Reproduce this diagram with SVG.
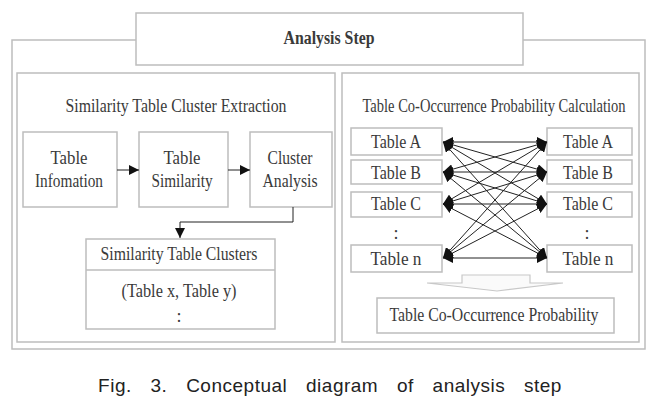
<svg xmlns="http://www.w3.org/2000/svg" width="665" height="403" viewBox="0 0 665 403">
<style>
.box{fill:#fff;stroke:#bdbdbd;stroke-width:1.5}
.t{font-family:"Liberation Serif",serif;font-size:18px;fill:#3a3a3a;text-anchor:middle}
.ln{stroke:#222;stroke-width:1;fill:none}
.cap{font-family:"Liberation Sans",sans-serif;font-size:19px;fill:#222;text-anchor:middle;word-spacing:13px;letter-spacing:0.5px}
</style>
<defs>
<marker id="ah" viewBox="0 0 10 10" refX="10" refY="5" markerWidth="10" markerHeight="10" markerUnits="userSpaceOnUse" orient="auto-start-reverse">
<path d="M0,0 L10,5 L0,10 z" fill="#111"/>
</marker>
</defs>
<rect width="665" height="403" fill="#fff"/>
<g id="outer"><rect class="box" x="12" y="40" width="633" height="309"/></g>
<g id="title"><rect class="box" x="136" y="13" width="387" height="52"/>
<text class="t" x="329" y="44" font-weight="bold" font-size="19" textLength="91" lengthAdjust="spacingAndGlyphs">Analysis Step</text></g>
<g id="leftPanel"><rect class="box" x="17" y="73" width="318" height="269"/>
<text class="t" x="176" y="112" textLength="221" lengthAdjust="spacingAndGlyphs">Similarity Table Cluster Extraction</text></g>
<g id="rightPanel"><rect class="box" x="342" y="73" width="297" height="269"/>
<text class="t" x="494" y="112" font-size="16" textLength="263" lengthAdjust="spacingAndGlyphs">Table Co-Occurrence Probability Calculation</text></g>
<g id="tableInfo"><rect class="box" x="23" y="132" width="94" height="75"/>
<text class="t" x="69" y="164" font-size="19" textLength="37" lengthAdjust="spacingAndGlyphs">Table</text>
<text class="t" x="69" y="187" font-size="19" textLength="68" lengthAdjust="spacingAndGlyphs">Infomation</text></g>
<g id="tableSim"><rect class="box" x="139" y="132" width="89" height="75"/>
<text class="t" x="182" y="164" font-size="19" textLength="37" lengthAdjust="spacingAndGlyphs">Table</text>
<text class="t" x="182" y="187" font-size="19" textLength="61" lengthAdjust="spacingAndGlyphs">Similarity</text></g>
<g id="clusterAna"><rect class="box" x="250" y="132" width="82" height="75"/>
<text class="t" x="290" y="164" font-size="19" textLength="45" lengthAdjust="spacingAndGlyphs">Cluster</text>
<text class="t" x="290" y="187" font-size="19" textLength="55" lengthAdjust="spacingAndGlyphs">Analysis</text></g>
<g id="simClusters"><rect class="box" x="86" y="239" width="189" height="90"/>
<line x1="86" y1="270" x2="275" y2="270" stroke="#bdbdbd" stroke-width="1.5"/>
<text class="t" x="179" y="260" textLength="157" lengthAdjust="spacingAndGlyphs">Similarity Table Clusters</text>
<text class="t" x="179" y="297" textLength="115" lengthAdjust="spacingAndGlyphs">(Table x, Table y)</text>
<text class="t" x="179" y="322">:</text></g>
<g id="L_A"><rect class="box" x="351" y="128" width="91" height="27"/><text class="t" x="396" y="148" textLength="50" lengthAdjust="spacingAndGlyphs">Table A</text></g>
<g id="L_B"><rect class="box" x="351" y="160" width="91" height="24"/><text class="t" x="396" y="179" textLength="50" lengthAdjust="spacingAndGlyphs">Table B</text></g>
<g id="L_C"><rect class="box" x="351" y="192" width="91" height="25"/><text class="t" x="396" y="210" textLength="50" lengthAdjust="spacingAndGlyphs">Table C</text></g>
<g id="L_n"><rect class="box" x="351" y="245" width="91" height="27"/><text class="t" x="396" y="265" textLength="51" lengthAdjust="spacingAndGlyphs">Table n</text></g>
<g id="R_A"><rect class="box" x="547" y="128" width="85" height="27"/><text class="t" x="588" y="148" textLength="50" lengthAdjust="spacingAndGlyphs">Table A</text></g>
<g id="R_B"><rect class="box" x="547" y="160" width="85" height="24"/><text class="t" x="588" y="179" textLength="50" lengthAdjust="spacingAndGlyphs">Table B</text></g>
<g id="R_C"><rect class="box" x="547" y="192" width="85" height="25"/><text class="t" x="588" y="210" textLength="50" lengthAdjust="spacingAndGlyphs">Table C</text></g>
<g id="R_n"><rect class="box" x="547" y="245" width="85" height="27"/><text class="t" x="588" y="265" textLength="51" lengthAdjust="spacingAndGlyphs">Table n</text></g>
<text class="t" x="396" y="239" font-size="26">:</text>
<text class="t" x="587" y="239" font-size="26">:</text>
<g id="coProb"><rect class="box" x="377" y="298" width="237" height="35"/>
<text class="t" x="494" y="321" textLength="209" lengthAdjust="spacingAndGlyphs">Table Co-Occurrence Probability</text></g>
<g id="bigArrow"><path d="M462,275 L530,275 L530,283 L563,283 L497,291 L427,283 L462,283 Z" fill="#fafafa" stroke="#c8c8c8" stroke-width="1.2"/></g>
<g id="connectors">
<line class="ln" x1="117" y1="170" x2="139" y2="170" marker-end="url(#ah)"/>
<line class="ln" x1="228" y1="170" x2="250" y2="170" marker-end="url(#ah)"/>
<polyline class="ln" points="293,207 293,222 180,222 180,238" marker-end="url(#ah)"/>
<line class="ln" x1="443" y1="142" x2="547" y2="142" marker-start="url(#ah)" marker-end="url(#ah)"/>
<line class="ln" x1="443" y1="142" x2="547" y2="172" marker-start="url(#ah)" marker-end="url(#ah)"/>
<line class="ln" x1="443" y1="142" x2="547" y2="204" marker-start="url(#ah)" marker-end="url(#ah)"/>
<line class="ln" x1="443" y1="142" x2="547" y2="258" marker-start="url(#ah)" marker-end="url(#ah)"/>
<line class="ln" x1="443" y1="172" x2="547" y2="142" marker-start="url(#ah)" marker-end="url(#ah)"/>
<line class="ln" x1="443" y1="172" x2="547" y2="172" marker-start="url(#ah)" marker-end="url(#ah)"/>
<line class="ln" x1="443" y1="172" x2="547" y2="204" marker-start="url(#ah)" marker-end="url(#ah)"/>
<line class="ln" x1="443" y1="172" x2="547" y2="258" marker-start="url(#ah)" marker-end="url(#ah)"/>
<line class="ln" x1="443" y1="204" x2="547" y2="142" marker-start="url(#ah)" marker-end="url(#ah)"/>
<line class="ln" x1="443" y1="204" x2="547" y2="172" marker-start="url(#ah)" marker-end="url(#ah)"/>
<line class="ln" x1="443" y1="204" x2="547" y2="204" marker-start="url(#ah)" marker-end="url(#ah)"/>
<line class="ln" x1="443" y1="204" x2="547" y2="258" marker-start="url(#ah)" marker-end="url(#ah)"/>
<line class="ln" x1="443" y1="258" x2="547" y2="142" marker-start="url(#ah)" marker-end="url(#ah)"/>
<line class="ln" x1="443" y1="258" x2="547" y2="172" marker-start="url(#ah)" marker-end="url(#ah)"/>
<line class="ln" x1="443" y1="258" x2="547" y2="204" marker-start="url(#ah)" marker-end="url(#ah)"/>
<line class="ln" x1="443" y1="258" x2="547" y2="258" marker-start="url(#ah)" marker-end="url(#ah)"/>
</g>
<text class="cap" x="330" y="392">Fig. 3. Conceptual diagram of analysis step</text>
</svg>
